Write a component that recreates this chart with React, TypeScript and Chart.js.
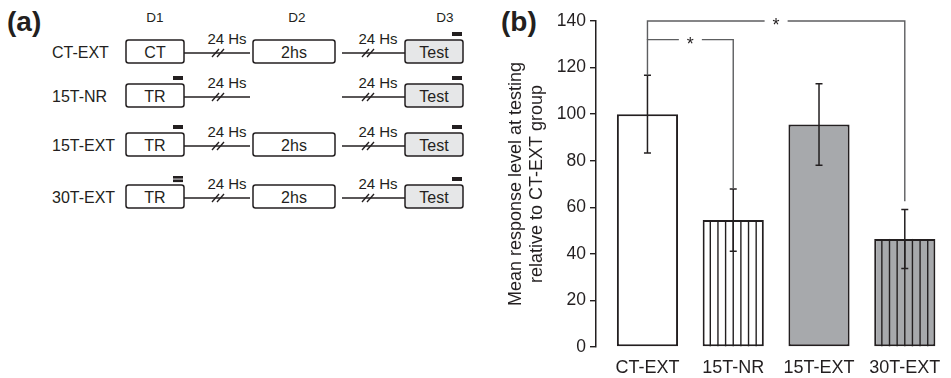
import React, { useEffect, useRef } from 'react';
import { Chart, registerables } from 'chart.js';

Chart.register(...registerables);

// ---------- panel (b) data ----------
const categories = ['CT-EXT', '15T-NR', '15T-EXT', '30T-EXT'];
const means = [100, 54.5, 95.5, 46.4];
const sems = [16.7, 13.4, 17.5, 12.7];
const barFills = ['#ffffff', '#ffffff', '#a7a9ac', '#a7a9ac'];
const hatched = [false, true, false, true];
const yMin = 0;
const yMax = 140;
const yStep = 20;
const yTitleLines = ['Mean response level at testing', 'relative to CT-EXT group'];

// significance brackets
const bracketFrom = [0, 0];
const bracketTo = [1, 3];
const bracketLevel = [132, 140];
const bracketLeftEnd = [116.7, 132];
const bracketRightEnd = [67.9, 62.6];
const bracketLabels = ['*', '*'];

// ---------- panel (a) data ----------
const groups = ['CT-EXT', '15T-NR', '15T-EXT', '30T-EXT'];
const dayLabels = ['D1', 'D2', 'D3'];
const d1Labels = ['CT', 'TR', 'TR', 'TR'];
const d2Labels = ['2hs', '', '2hs', '2hs'];
const d3Labels = ['Test', 'Test', 'Test', 'Test'];
const d1Marks = [0, 1, 1, 2];
const d3Marks = [1, 1, 1, 1];
const intervalLabel = '24 Hs';

// ---------- styles / layout ----------
const DARK = '#231f20';
const BRACKET = '#5d5e60';
const FONT = '"Liberation Sans", Arial, Helvetica, sans-serif';
const ROW_Y = [53, 97, 146, 198];
const DAY_X = [155, 297, 445];
const BOX_X = [126, 253, 405];
const BOX_W = [58, 82, 58];
const BOX_H = 23;
const BOX_OFF = -13;
const SEGMENTS = [
  [184, 250],
  [342, 405],
];
const BREAK_X = [218, 368];
const INTERVAL_X = [227, 378];

const overlayPlugin = {
  id: 'overlay',
  afterDatasetsDraw(chart: any) {
    const ctx: CanvasRenderingContext2D = chart.ctx;
    const meta = chart.getDatasetMeta(0);
    const ys = chart.scales.y;
    ctx.save();
    // hatching
    meta.data.forEach((bar: any, i: number) => {
      if (!hatched[i]) return;
      const p = bar.getProps(['x', 'y', 'base', 'width'], true);
      const left = p.x - p.width / 2;
      ctx.strokeStyle = DARK;
      ctx.lineWidth = 1.4;
      for (let k = 1; k < 8; k++) {
        const hx = left + (k * p.width) / 8;
        ctx.beginPath();
        ctx.moveTo(hx, p.y);
        ctx.lineTo(hx, p.base);
        ctx.stroke();
      }
    });
    // error bars
    meta.data.forEach((bar: any, i: number) => {
      const x = bar.x;
      const hi = ys.getPixelForValue(means[i] + sems[i]);
      const lo = ys.getPixelForValue(means[i] - sems[i]);
      ctx.strokeStyle = DARK;
      ctx.lineWidth = 1.5;
      ctx.beginPath();
      ctx.moveTo(x, hi);
      ctx.lineTo(x, lo);
      ctx.moveTo(x - 3.5, hi);
      ctx.lineTo(x + 3.5, hi);
      ctx.moveTo(x - 3.5, lo);
      ctx.lineTo(x + 3.5, lo);
      ctx.stroke();
    });
    // brackets
    ctx.font = `18px ${FONT}`;
    bracketFrom.forEach((from, j) => {
      const xa = meta.data[from].x;
      const xb = meta.data[bracketTo[j]].x;
      const yl = ys.getPixelForValue(bracketLevel[j]);
      const ya = ys.getPixelForValue(bracketLeftEnd[j]);
      const yb = ys.getPixelForValue(bracketRightEnd[j]);
      const mid = (xa + xb) / 2;
      const gh = ctx.measureText(bracketLabels[j]).width / 2 + 8;
      ctx.strokeStyle = BRACKET;
      ctx.lineWidth = 1.4;
      ctx.beginPath();
      ctx.moveTo(xa, ya);
      ctx.lineTo(xa, yl);
      ctx.lineTo(mid - gh, yl);
      ctx.moveTo(mid + gh, yl);
      ctx.lineTo(xb, yl);
      ctx.lineTo(xb, yb);
      ctx.stroke();
      ctx.fillStyle = DARK;
      ctx.textAlign = 'center';
      ctx.textBaseline = 'alphabetic';
      ctx.fillText(bracketLabels[j], mid, yl + 10);
    });
    ctx.restore();
  },
};

function BarPanel() {
  const ref = useRef<HTMLCanvasElement | null>(null);
  useEffect(() => {
    if (!ref.current) return;
    const chart = new Chart(ref.current, {
      type: 'bar',
      data: {
        datasets: [
          {
            data: categories.map((_, i) => ({ x: i + 1, y: means[i] })),
            backgroundColor: barFills,
            borderColor: DARK,
            borderWidth: 2,
            borderSkipped: false,
            categoryPercentage: 1,
            barPercentage: 0.713,
          } as any,
        ],
      },
      options: {
        animation: false,
        responsive: false,
        devicePixelRatio: 1,
        layout: { padding: { top: 21, right: 7, left: 0, bottom: 0 } },
        plugins: { legend: { display: false }, tooltip: { enabled: false } },
        font: { family: FONT } as any,
        scales: {
          x: {
            type: 'linear',
            min: 0.4,
            max: 4.4,
            offset: false,
            grid: { display: false, drawTicks: false, offset: false },
            border: { display: false },
            ticks: {
              color: DARK,
              font: { size: 18, family: FONT },
              padding: 10,
              maxRotation: 0,
              autoSkip: false,
              callback: (v: any) => categories[Math.round(Number(v)) - 1] ?? '',
            },
            afterBuildTicks: (s: any) => {
              s.ticks = categories.map((_, i) => ({ value: i + 1 }));
            },
            afterFit: (s: any) => {
              s.height = 31;
            },
          },
          y: {
            min: yMin,
            max: yMax,
            ticks: { stepSize: yStep, color: DARK, font: { size: 17.5, family: FONT }, padding: 4 },
            grid: { drawOnChartArea: false, drawTicks: true, tickLength: 6, color: DARK, lineWidth: 1.4 },
            border: { display: true, color: DARK, width: 1.5 },
            title: {
              display: true,
              text: yTitleLines,
              color: DARK,
              font: { size: 18, family: FONT },
              padding: { top: 25, bottom: 0 },
            },
            afterFit: (s: any) => {
              s.width = 116;
            },
          },
        },
      } as any,
      plugins: [overlayPlugin],
    });
    return () => chart.destroy();
  }, []);
  return <canvas ref={ref} width={471} height={378} style={{ display: 'block' }} />;
}

function Mark({ x, y, count }: { x: number; y: number; count: number }) {
  if (count === 0) return null;
  if (count === 1) return <rect x={x} y={y} width={10} height={4} fill={DARK} />;
  return (
    <g>
      <rect x={x} y={y - 1} width={10} height={2.6} fill={DARK} />
      <rect x={x} y={y + 2.5} width={10} height={2.6} fill={DARK} />
    </g>
  );
}

function Box({ x, w, top, label, fill }: { x: number; w: number; top: number; label: string; fill: string }) {
  return (
    <g>
      <rect x={x} y={top} width={w} height={BOX_H} rx={2.5} ry={2.5} fill={fill} stroke={DARK} strokeWidth={1.5} />
      <text x={x + w / 2} y={top + BOX_H / 2 + 6} textAnchor="middle" fontSize={16} fill={DARK}>
        {label}
      </text>
    </g>
  );
}

function Diagram() {
  return (
    <svg width={951} height={378} style={{ position: 'absolute', left: 0, top: 0 }} fontFamily={FONT}>
      <text x={7} y={31} fontSize={28} fontWeight="bold" fill={DARK}>
        (a)
      </text>
      <text x={501} y={31} fontSize={28} fontWeight="bold" fill={DARK}>
        (b)
      </text>
      {dayLabels.map((d, i) => (
        <text key={d} x={DAY_X[i]} y={22} textAnchor="middle" fontSize={13.5} fill={DARK}>
          {d}
        </text>
      ))}
      {groups.map((g, r) => {
        const ly = ROW_Y[r];
        const top = ly + BOX_OFF;
        return (
          <g key={g}>
            <text x={52} y={ly + 5} fontSize={16} fill={DARK}>
              {g}
            </text>
            {SEGMENTS.map((s, k) => (
              <g key={k}>
                <line x1={s[0]} y1={ly} x2={s[1]} y2={ly} stroke={DARK} strokeWidth={1.3} />
                <line x1={BREAK_X[k] - 6} y1={ly + 4} x2={BREAK_X[k] + 1} y2={ly - 4} stroke={DARK} strokeWidth={1.3} />
                <line x1={BREAK_X[k] - 1} y1={ly + 4} x2={BREAK_X[k] + 6} y2={ly - 4} stroke={DARK} strokeWidth={1.3} />
                <text x={INTERVAL_X[k]} y={ly - 9} textAnchor="middle" fontSize={15} fill={DARK}>
                  {intervalLabel}
                </text>
              </g>
            ))}
            <Box x={BOX_X[0]} w={BOX_W[0]} top={top} label={d1Labels[r]} fill="#ffffff" />
            {d2Labels[r] ? <Box x={BOX_X[1]} w={BOX_W[1]} top={top} label={d2Labels[r]} fill="#ffffff" /> : null}
            <Box x={BOX_X[2]} w={BOX_W[2]} top={top} label={d3Labels[r]} fill="#e6e7e8" />
            <Mark x={BOX_X[0] + BOX_W[0] - 11} y={top - 8} count={d1Marks[r]} />
            <Mark x={BOX_X[2] + BOX_W[2] - 11} y={top - 8} count={d3Marks[r]} />
          </g>
        );
      })}
    </svg>
  );
}

export default function App() {
  return (
    <div style={{ position: 'fixed', left: 0, top: 0, width: 951, height: 378, background: '#ffffff', overflow: 'hidden' }}>
      <Diagram />
      <div style={{ position: 'absolute', left: 480, top: 0, width: 471, height: 378 }}>
        <BarPanel />
      </div>
    </div>
  );
}
